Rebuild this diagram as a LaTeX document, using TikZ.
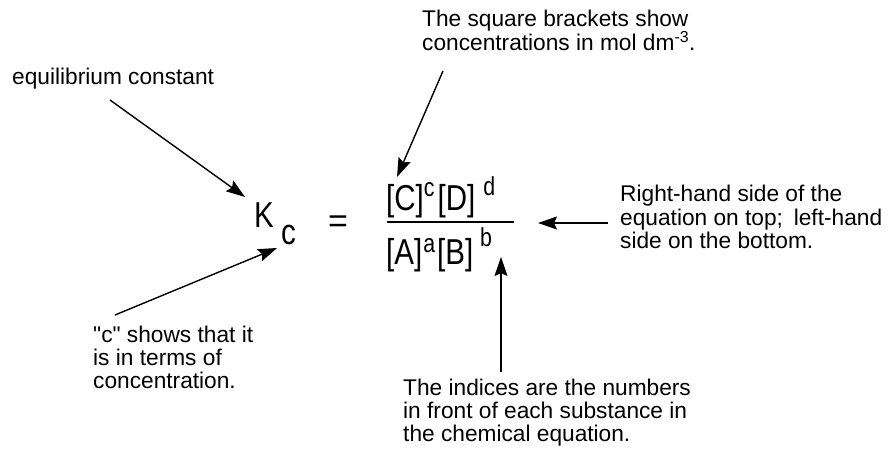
\documentclass[tikz,border=0pt]{standalone}
\usepackage{fontspec}
\setmainfont{Liberation Sans}
\newfontfamily\txtfont{Liberation Sans}
\newfontfamily\eqfont[FakeStretch=0.82]{Liberation Sans}
\usetikzlibrary{arrows.meta}
\newcommand\blocktext[1]{\parbox[t]{400pt}{\lineskiplimit=-30pt\raggedright #1}}
\newcommand\eqsup[2]{\raisebox{#1pt}{\fontsize{26}{26}\selectfont #2}}
\begin{document}
\begin{tikzpicture}[x=1pt,y=-1pt,
  lbl/.style={inner sep=0pt,anchor=base west,font=\txtfont\fontsize{22.7}{23.5}\selectfont},
  eq/.style={inner sep=0pt,anchor=base west,font=\eqfont\fontsize{36}{38}\selectfont},
  arr/.style={line width=1.4pt,-{Stealth[length=19pt,width=13pt,inset=3pt]}}]
\fill[white] (0,0) rectangle (889,454);
\useasboundingbox (0,0) rectangle (889,454);

% text blocks
\node[lbl] (eqc) at (12,85) {equilibrium constant};
\node[lbl] (sq) at (422,27) {\blocktext{The square brackets show\\concentrations in mol dm\textsuperscript{-3}.}};
\node[lbl] (rhs) at (620,202) {\blocktext{Right-hand side of the\\equation on top;\hspace{0.2em} left-hand\\side on the bottom.}};
\node[lbl] (cs) at (93,342) {\blocktext{"c" shows that it\\is in terms of\\concentration.}};
\node[lbl] (ind) at (403,395) {\blocktext{The indices are the numbers\\in front of each substance in\\the chemical equation.}};

% formula
\node[eq] (K) at (254,228) {K};
\node[eq] (csub) at (281,245) {c};
\node[inner sep=0pt,anchor=base,font=\txtfont\fontsize{34}{36}\selectfont] (eqs) at (338,232.5) {=};
\node[eq] (num) at (386,211) {[C]\eqsup{14}{c}\hspace{3pt}[D]\hspace{8pt}\eqsup{15}{d}};
\node[eq] (den) at (386,265) {[A]\hspace{1pt}\eqsup{12}{a}\hspace{2pt}[B]\hspace{7pt}\eqsup{18}{b}};
\coordinate (barL) at (387,222);
\coordinate (barR) at (514,222);
\draw[line width=1.8pt] (barL) -- (barR);

% connectors
\coordinate (a1s) at (110,100);
\coordinate (a1e) at (245,197);
\coordinate (a2s) at (443,71);
\coordinate (a2e) at (397,177);
\coordinate (a3s) at (608,223);
\coordinate (a3e) at (538,223);
\coordinate (a4s) at (501,372);
\coordinate (a4e) at (501,257);
\coordinate (a5s) at (115,315);
\coordinate (a5e) at (277,248);
\draw[arr] (a1s) -- (a1e);
\draw[arr] (a2s) -- (a2e);
\draw[arr] (a3s) -- (a3e);
\draw[arr] (a4s) -- (a4e);
\draw[arr] (a5s) -- (a5e);
\end{tikzpicture}
\end{document}
